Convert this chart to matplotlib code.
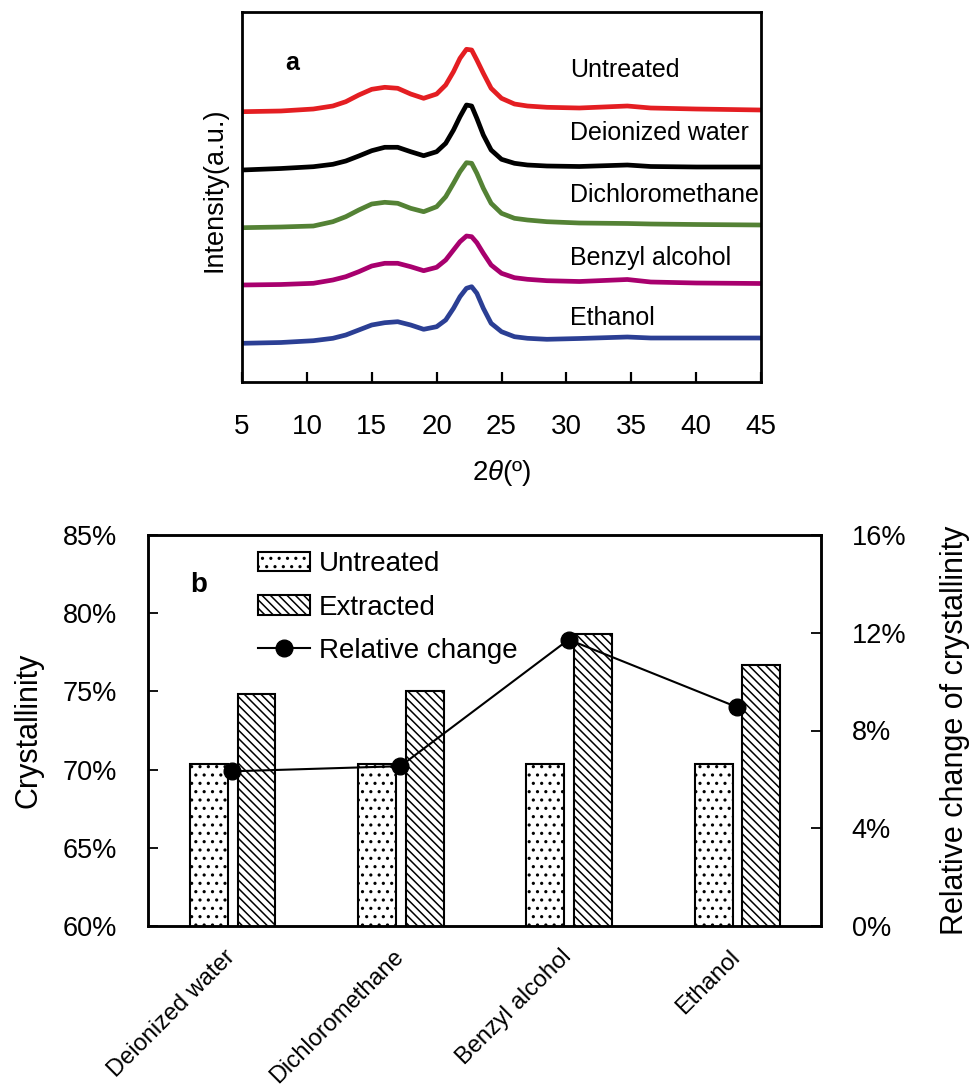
import matplotlib
matplotlib.use("Agg")
import matplotlib.pyplot as plt
from matplotlib.patches import Patch
from matplotlib.lines import Line2D
import numpy as np

plt.rcParams['font.family'] = ['Liberation Sans', 'DejaVu Sans']
plt.rcParams['mathtext.fontset'] = 'custom'
plt.rcParams['mathtext.it'] = 'Liberation Sans:italic'
plt.rcParams['mathtext.rm'] = 'Liberation Sans'
plt.rcParams['hatch.linewidth'] = 1.1

# ---------------- Panel a data (XRD patterns, offset arbitrary units) ----------------
two_theta = [5, 8, 10.5, 12, 13, 14, 15, 16, 17, 18, 19, 20, 20.7, 21.3, 21.8, 22.3, 22.7,
             23.1, 23.6, 24.2, 25, 26, 27, 28.5, 31, 34.7, 36.5, 40, 45]
untreated_xrd = [270.3, 271, 273, 276, 280.3, 287, 292.7, 294.7, 293.7, 288, 283.7, 288, 297,
                 310.3, 323.7, 332.7, 332, 322, 308.7, 293.7, 283.7, 278, 276, 274.7,
                 274, 276, 274, 273, 272]
deionized_xrd = [212, 213.5, 215.3, 217.7, 221, 226, 231.3, 234.7, 234.7, 230.3, 226.3, 230.3,
                 238.7, 252, 265.3, 277, 276, 263.7, 247, 232, 222.7, 218.7, 217, 216,
                 215.5, 217, 215.5, 215, 215]
dichloro_xrd = [154.3, 155, 156, 160.3, 165.3, 172, 178, 179.7, 178.7, 173.7, 170.3, 175.3,
                185.3, 198.7, 210.3, 219.3, 218.7, 208.7, 193.7, 178.7, 168.7, 163.7, 162,
                160.3, 159, 158.5, 158, 157.5, 157]
benzyl_xrd = [97, 97.5, 98.7, 102, 105.3, 110.3, 116, 118.7, 118.7, 115.3, 111.3, 114.7,
              122, 132, 140.3, 146, 145.3, 139.3, 128.7, 117, 108.7, 104.3, 102.7, 101.3,
              100.5, 102.5, 100, 99, 98.5]
ethanol_xrd = [38.7, 39.5, 41.3, 43.7, 47, 52, 57, 59.3, 60.3, 57, 52.7, 55.3, 62, 73.7,
               85.3, 93.7, 95.3, 88.7, 73.7, 58.7, 50.3, 45.3, 43.7, 42.7, 43.5, 45, 44,
               44, 44]
xrd_labels = ['Untreated', 'Deionized water', 'Dichloromethane', 'Benzyl alcohol', 'Ethanol']
xrd_label_y = [312, 249, 187, 124, 64]
xrd_colors = ['#E41E22', '#000000', '#548235', '#A8006E', '#2B3F94']
xticks_a = [5, 10, 15, 20, 25, 30, 35, 40, 45]

# ---------------- Panel b data ----------------
solvents = ['Deionized water', 'Dichloromethane', 'Benzyl alcohol', 'Ethanol']
cryst_untreated = [70.36, 70.36, 70.36, 70.36]
cryst_extracted = [74.85, 75.0, 78.66, 76.7]
relative_change = [6.33, 6.54, 11.72, 8.96]
left_ticks = [60, 65, 70, 75, 80, 85]
right_ticks = [0, 4, 8, 12, 16]

W, H = 977, 1092
fig = plt.figure(figsize=(W / 100, H / 100), dpi=100)

def ax_rect(l, t, r, b):
    return [l / W, 1 - b / H, (r - l) / W, (b - t) / H]

# ---------------- Panel a ----------------
axa = fig.add_axes(ax_rect(242, 12, 761, 382))
series = [untreated_xrd, deionized_xrd, dichloro_xrd, benzyl_xrd, ethanol_xrd]
for ys, c, lab, ly in zip(series, xrd_colors, xrd_labels, xrd_label_y):
    axa.plot(two_theta, ys, color=c, lw=3.4, solid_joinstyle='round', solid_capstyle='round')
    axa.text(30.28, ly, lab, fontsize=18, ha='left', va='center', clip_on=False)
axa.text(8.84, 318.7, 'a', fontsize=18, fontweight='bold', ha='center', va='center')
axa.set_xlim(5, 45)
axa.set_ylim(0, 370)
axa.set_xticks(xticks_a)
axa.set_yticks([])
axa.tick_params(axis='x', direction='in', length=7, width=1.6, labelsize=20, pad=23)
for s in axa.spines.values():
    s.set_linewidth(2.0)
axa.set_xlabel(r'2$\it{\theta}$(º)', fontsize=20, labelpad=13)
axa.set_ylabel('Intensity(a.u.)', fontsize=19.5)
axa.yaxis.set_label_coords(-0.028, 0.519)

# ---------------- Panel b ----------------
axb = fig.add_axes(ax_rect(148, 535, 821, 926))
x = np.arange(len(solvents))
bw = 0.225
axb.bar(x - 0.138, cryst_untreated, width=bw, bottom=0, color='white', edgecolor='black',
        hatch='..', linewidth=1.5, zorder=2)
axb.bar(x + 0.145, cryst_extracted, width=bw, bottom=0, color='white', edgecolor='black',
        hatch='\\\\\\\\', linewidth=1.5, zorder=2)
axb.set_ylim(60, 85)
axb.set_xlim(-0.5, len(solvents) - 0.5)
axb.set_yticks(left_ticks)
axb.set_yticklabels([f'{v}%' for v in left_ticks])
axb.tick_params(axis='y', direction='in', length=7, width=1.3, labelsize=19.5, pad=22)
axb.set_xticks(x)
axb.set_xticklabels(solvents, rotation=45, ha='right', va='center', rotation_mode='anchor',
                    fontsize=17)
axb.tick_params(axis='x', length=0, pad=20)
axb.set_ylabel('Crystallinity', fontsize=22, labelpad=14)
for s in axb.spines.values():
    s.set_linewidth(1.8)

axr = axb.twinx()
axr.plot(x, relative_change, color='black', lw=1.5, marker='o', markersize=12, zorder=3)
axr.set_ylim(0, 16)
axr.set_yticks(right_ticks)
axr.set_yticklabels([f'{v}%' for v in right_ticks])
axr.tick_params(axis='y', direction='in', length=7, width=1.3, labelsize=19.5, pad=22)
axr.set_ylabel('Relative change of crystallinity', fontsize=22, labelpad=24)
for s in axr.spines.values():
    s.set_linewidth(1.8)

axb.text(0.075, 0.873, 'b', transform=axb.transAxes, fontsize=20, fontweight='bold',
         ha='center', va='center')

handles = [Patch(facecolor='white', edgecolor='black', hatch='..', linewidth=1.5),
           Patch(facecolor='white', edgecolor='black', hatch='\\\\\\\\', linewidth=1.5),
           Line2D([], [], color='black', lw=1.5, marker='o', markersize=12)]
leg = axr.legend(handles, ['Untreated', 'Extracted', 'Relative change'],
                 loc='upper left', bbox_to_anchor=(0.163, 0.958), frameon=False,
                 fontsize=20, handlelength=1.9, handleheight=0.7, handletextpad=0.3,
                 labelspacing=0.62, borderpad=0, borderaxespad=0, numpoints=1)

fig.savefig('out.png', dpi=100)
